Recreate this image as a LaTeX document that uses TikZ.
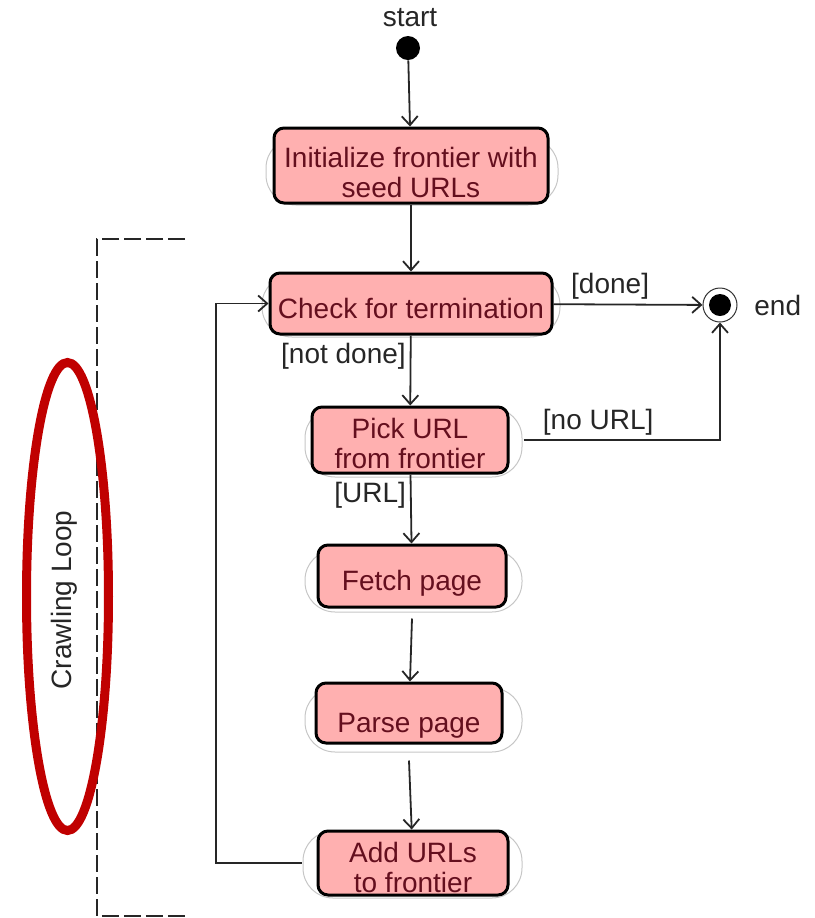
\documentclass[tikz,border=0pt]{standalone}
\usepackage{fontspec}
\setmainfont{Liberation Sans}
\usepackage{xcolor}
\definecolor{colAct}{RGB}{255,176,176}
\definecolor{colActText}{RGB}{100,15,30}
\definecolor{colLoop}{RGB}{192,0,0}
\usetikzlibrary{arrows.meta, positioning, calc}
\tikzset{
  activity/.style={draw=black, line width=1.5pt, fill=colAct, rounded corners=5pt,
    text=colActText, align=center, font=\fontsize{14}{15}\selectfont, inner sep=0pt},
  pill/.style={draw=gray!45, line width=0.5pt, rounded corners=15pt},
  flow/.style={draw=black!85, line width=0.9pt, -{Straight Barb[length=4.5pt,width=8pt]}},
  guard/.style={font=\fontsize{14}{15}\selectfont, text=black!85, inner sep=2pt},
}

\begin{document}
\begin{tikzpicture}[x=0.5pt, y=-0.5pt]
				\useasboundingbox (0,0) rectangle (815,918);
				% Background outlines behind the actions
				\draw[pill] (266,138) rectangle (558,205);
				\draw[pill] (262,275) rectangle (560,337);
				\draw[pill] (305,408) rectangle (522,477);
				\draw[pill] (305,550) rectangle (522,612);
				\draw[pill] (305,688) rectangle (522,752);
				\draw[pill] (303,831) rectangle (522,898);
				% Start and end
				\node[guard] (startlbl) at (410,18) {start};
				\node[circle, fill=black, minimum size=12pt, inner sep=0pt] (startdot) at (408,48) {};
				\node[circle, draw=black!80, line width=0.5pt, fill=white, minimum size=17pt, inner sep=0pt] (end) at (720,305) {};
				\node[circle, fill=black, minimum size=11pt, inner sep=0pt] (enddot) at (end) {};
				\node[guard, anchor=west] (endlbl) at (750,305) {end};
				% Actions
				\node[activity, minimum width=137pt, minimum height=37.5pt, text height=32pt, text depth=0pt] (init) at (411,165.5) {Initialize frontier with\\seed URLs};
				\node[activity, minimum width=141pt, minimum height=30.5pt, text height=15pt, text depth=0pt] (check) at (411,303.5) {Check for termination};
				\node[activity, minimum width=98pt, minimum height=33pt, text height=28pt, text depth=0pt] (pick) at (410,440) {Pick URL\\from frontier};
				\node[activity, minimum width=94pt, minimum height=31pt, text height=14pt, text depth=0pt] (fetch) at (412,576) {Fetch page};
				\node[activity, minimum width=93pt, minimum height=30pt, text height=19pt, text depth=0pt] (parse) at (409,713) {Parse page};
				\node[activity, minimum width=95pt, minimum height=32pt, text height=29pt, text depth=0pt] (add) at (413,863) {Add URLs\\to frontier};
				% Transitions
				\draw[flow] (startdot) -- (init);
				\draw[flow] (init) -- (check);
				\draw[flow] (check) -- node[guard, above, pos=0.38] {[done]} (end);
				\draw[flow] (check) -- node[guard, left, pos=0.3] {[not done]} (pick);
				\draw[flow] ([xshift=7pt]pick.east) -- node[guard, above, pos=0.38] {[no URL]} (end |- pick) -- (end);
				\draw[flow] (pick) -- node[guard, left, pos=0.3] {[URL]} (fetch);
				\draw[flow] ([yshift=-5pt]fetch.south) -- (parse);
				\draw[flow] ([yshift=-8pt]parse.south) -- (add);
				\coordinate (loopx) at (216,303.5);
				\draw[flow] ([xshift=-7.5pt]add.west) -| (loopx) -- (check);
				% Loop bracket
				\draw[black!85, line width=0.75pt, dash pattern=on 8.5pt off 2.5pt] (185,239) -| (97,916) -- (185,916);
				\draw[colLoop, line width=4.5pt] (67.5,596.5) ellipse [x radius=20.5pt, y radius=117pt];
				\node[guard, rotate=90] (looplbl) at (64,600) {Crawling Loop};
			\end{tikzpicture}
\end{document}
